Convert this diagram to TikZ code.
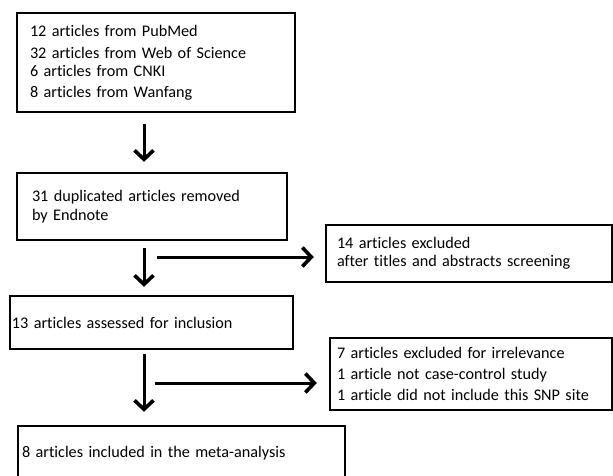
\documentclass[tikz,border=0pt]{standalone}
\usepackage{fontspec}
\setmainfont[Ligatures=NoCommon]{Carlito}
\usetikzlibrary{positioning, arrows.meta}

\tikzset{
	box/.style={draw, line width=2.4pt, align=left, inner ysep=0pt, font=\fontsize{16.2}{19.5}\selectfont},
	flow/.style={line width=3pt, -{Straight Barb[length=9pt, width=19pt, line width=3.6pt]}}
}

\begin{document}
\begin{tikzpicture}[x=1pt, y=-1pt]

		\useasboundingbox (0,0) rectangle (613,475);
		\clip (0,0) rectangle (613,475);
		\coordinate (spine) at (144,0);

		\node[box, text width=252pt, inner xsep=13pt, minimum height=99pt] (src) at (156,62.5) {12 articles from PubMed\\[2.5pt] 32 articles from Web of Science\\[-1.5pt] 6 articles from CNKI\\[1.5pt] 8 articles from Wanfang};
		\node[box, text width=240pt, inner xsep=15pt, minimum height=67pt] (dup) at (152,206.5) {31 duplicated articles removed\\ by Endnote};
		\node[box, text width=264pt, inner xsep=11pt, minimum height=57pt] (excl1) at (469,253.5) {14 articles excluded\\[-1.5pt] after titles and abstracts screening};
		\node[box, text width=279pt, inner xsep=2pt, minimum height=53pt] (assess) at (151.5,322.5) {13 articles assessed for inclusion};
		\node[box, text width=268pt, inner xsep=7pt, minimum height=72pt] (excl2) at (471,374) {7 articles excluded for irrelevance\\[1.5pt] 1 article not case-control study\\[1.5pt] 1 article did not include this SNP site};
		\node[box, text width=319pt, inner xsep=4pt, minimum height=54pt] (incl) at (181.5,453) {8 articles included in the meta-analysis};

		\draw[flow, shorten <=11pt, shorten >=10pt] (src.south -| spine) -- (dup.north -| spine);
		\draw[flow, shorten <=7pt, shorten >=8pt] (dup.south -| spine) -- (assess.north -| spine);
		\draw[flow, shorten <=4pt, shorten >=13pt] (assess.south -| spine) -- (incl.north -| spine);

		\coordinate (fork1) at (157,257);
		\coordinate (fork2) at (155,383);
		\draw[flow, shorten >=11pt] (fork1) -- (fork1 -| excl1.west);
		\draw[flow, shorten >=12pt] (fork2) -- (fork2 -| excl2.west);

	\end{tikzpicture}
\end{document}
